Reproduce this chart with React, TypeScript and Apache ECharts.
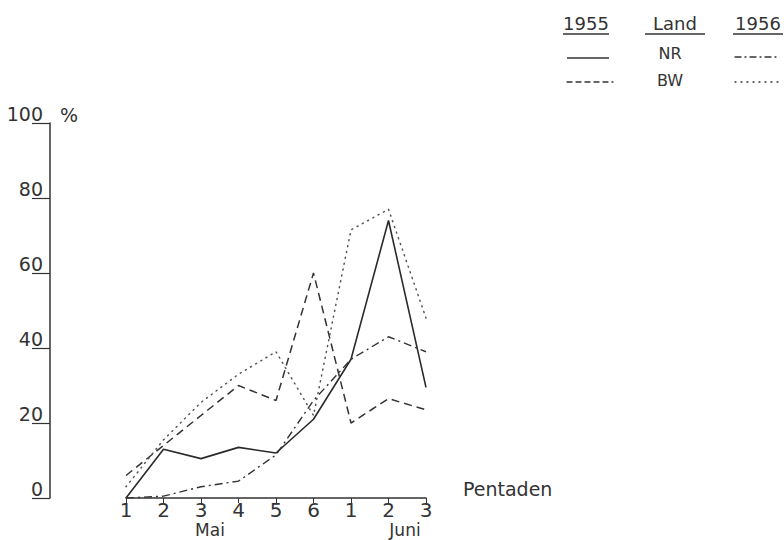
import React, { useEffect, useRef } from 'react';
import * as echarts from 'echarts';

const categories = ['Mai 1', 'Mai 2', 'Mai 3', 'Mai 4', 'Mai 5', 'Mai 6', 'Juni 1', 'Juni 2', 'Juni 3'];
const pentadeLabels = ['1', '2', '3', '4', '5', '6', '1', '2', '3'];
const nr1955 = [0, 13, 10.5, 13.5, 12, 21, 37, 74, 29.5];
const bw1955 = [6, 14, 22, 30, 26, 60, 20, 26.5, 23.5];
const nr1956 = [0, 0.5, 3, 4.5, 11.5, 26, 37, 43, 39];
const bw1956 = [3, 15.5, 25.5, 33, 39, 22, 71.5, 77, 48];
const yMin = 0;
const yMax = 100;
const yStep = 20;

const FONT = 'DejaVu Sans';
const INK = '#333';

export default function App() {
  const ref = useRef<HTMLDivElement>(null);
  useEffect(() => {
    if (!ref.current) return;
    const chart = echarts.init(ref.current, undefined, { renderer: 'svg' });
    const txt = (text: string, x: number, y: number, size: number, align: string = 'left') => ({
      type: 'text',
      x,
      y,
      style: { text, fill: INK, font: `${size}px "${FONT}"`, textAlign: align, textVerticalAlign: 'middle' },
    });
    const ln = (x1: number, y1: number, x2: number, y2: number, dash?: any, w = 1.3) => ({
      type: 'line',
      shape: { x1, y1, x2, y2 },
      style: { stroke: INK, lineWidth: w, lineDash: dash, lineCap: dash ? 'round' : 'butt' },
    });
    chart.setOption({
      animation: false,
      backgroundColor: '#fff',
      textStyle: { fontFamily: FONT, color: INK },
      grid: [
        { left: 50, width: 1, top: 123, bottom: 42 },
        { left: 126, right: 358, top: 123, bottom: 42 },
      ],
      xAxis: [
        { gridIndex: 0, type: 'value', show: false },
        {
          gridIndex: 1,
          type: 'category',
          data: categories,
          boundaryGap: false,
          axisLine: { lineStyle: { color: INK, width: 1.5 } },
          axisTick: { show: true, interval: 0, length: 5, lineStyle: { color: INK } },
          axisLabel: {
            interval: 0,
            margin: 2,
            fontSize: 20,
            lineHeight: 19,
            color: INK,
            fontFamily: FONT,
            formatter: (_v: string, i: number) => pentadeLabels[i],
          },
          name: 'Pentaden',
          nameLocation: 'end',
          nameGap: 37,
          nameTextStyle: { fontSize: 19, color: INK, fontFamily: FONT, align: 'left', verticalAlign: 'bottom' },
        },
      ],
      yAxis: [
        {
          gridIndex: 0,
          type: 'value',
          min: yMin,
          max: yMax,
          interval: yStep,
          axisLine: { show: true, lineStyle: { color: INK, width: 1.5 } },
          axisTick: { show: true, length: 18, lineStyle: { color: INK, width: 1.2 } },
          splitLine: { show: false },
          axisLabel: { margin: 7, fontSize: 19, color: INK, fontFamily: FONT, verticalAlign: 'bottom' },
          name: '%',
          nameLocation: 'end',
          nameGap: 8,
          nameTextStyle: { fontSize: 19, color: INK, fontFamily: FONT, align: 'left', verticalAlign: 'middle', padding: [0, 0, 0, 10] },
        },
        { gridIndex: 1, type: 'value', min: yMin, max: yMax, show: false },
      ],
      series: [
        {
          name: '1955 NR', type: 'line', xAxisIndex: 1, yAxisIndex: 1, data: nr1955, symbol: 'none',
          lineStyle: { color: '#2a2a2a', width: 1.6 },
        },
        {
          name: '1955 BW', type: 'line', xAxisIndex: 1, yAxisIndex: 1, data: bw1955, symbol: 'none',
          lineStyle: { color: '#333', width: 1.5, type: [8, 5] },
        },
        {
          name: '1956 NR', type: 'line', xAxisIndex: 1, yAxisIndex: 1, data: nr1956, symbol: 'none',
          lineStyle: { color: '#333', width: 1.4, type: [8, 4, 2, 4] },
        },
        {
          name: '1956 BW', type: 'line', xAxisIndex: 1, yAxisIndex: 1, data: bw1956, symbol: 'none',
          lineStyle: { color: '#555', width: 1.5, type: [1, 5], cap: 'round' },
        },
      ],
      graphic: [
        txt('1955', 586, 23, 18, 'center'),
        txt('Land', 675, 23, 18, 'center'),
        txt('1956', 758, 23, 18, 'center'),
        ln(563, 34, 609, 34),
        ln(645, 34, 705, 34),
        ln(733, 34, 783, 34),
        txt('NR', 670, 53, 16, 'center'),
        txt('BW', 670, 80, 16, 'center'),
        ln(567, 58, 609, 58),
        ln(567, 82, 613, 82, [5, 4]),
        ln(735, 57, 780, 57, [6, 4, 1, 4]),
        ln(735, 82, 780, 82, [1, 5]),
        txt('Mai', 210, 530, 17, 'center'),
        txt('Juni', 405, 530, 17, 'center'),
      ],
    });
    return () => chart.dispose();
  }, []);
  return <div ref={ref} style={{ position: 'fixed', left: 0, top: 0, width: 784, height: 540 }} />;
}
